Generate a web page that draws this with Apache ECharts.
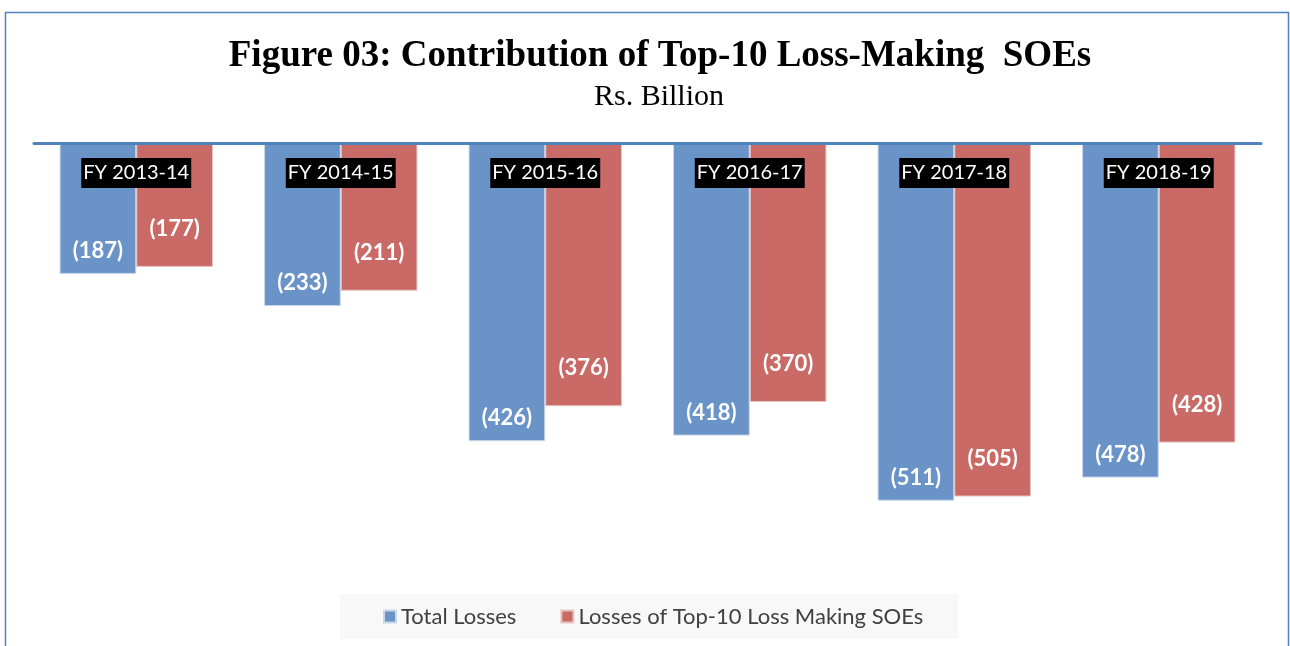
<!DOCTYPE html>
<html>
<head>
<meta charset="utf-8">
<script src="https://cdn.jsdelivr.net/npm/echarts@6/dist/echarts.min.js"></script>
<style>
  html, body { margin: 0; padding: 0; background: #fff; }
  #chart { width: 1290px; height: 646px; }
</style>
</head>
<body>
<div id="chart"></div>
<script>
// values (Rs. Billion, losses shown as negatives)
var categories = ['FY 2013-14', 'FY 2014-15', 'FY 2015-16', 'FY 2016-17', 'FY 2017-18', 'FY 2018-19'];
var totalLosses = [-187, -233, -426, -418, -511, -478];
var top10Losses = [-177, -211, -376, -370, -505, -428];
var seriesNames = ['Total Losses', 'Losses of Top-10 Loss Making SOEs'];

var sansFont = 'Lato, "Open Sans", sans-serif';
var serifFont = '"Liberation Serif", "DejaVu Serif", serif';

function bracketLabel(p) {
  return '(' + Math.abs(p.value) + ')';
}

var myChart = echarts.init(document.getElementById('chart'));
myChart.setOption({
  animation: false,
  backgroundColor: '#fff',
  title: [
    {
      text: 'Figure 03: Contribution of Top-10 Loss-Making  SOEs',
      left: 660,
      top: 38,
      textAlign: 'center',
      padding: 0,
      textStyle: { fontFamily: serifFont, fontSize: 37, fontWeight: 'bold', color: '#000' }
    },
    {
      text: 'Rs. Billion',
      left: 659,
      top: 82,
      textAlign: 'center',
      padding: 0,
      textStyle: { fontFamily: serifFont, fontSize: 30, fontWeight: 'normal', color: '#000' }
    }
  ],
  graphic: [
    {
      type: 'rect',
      shape: { x: 5.5, y: 12.5, width: 1283, height: 700 },
      style: { fill: 'none', stroke: '#4f81bd', lineWidth: 1.5 },
      silent: true
    }
  ],
  legend: {
    data: seriesNames,
    left: 340,
    top: 594,
    padding: [11, 35, 11, 43],
    backgroundColor: '#f8f8f8',
    icon: 'rect',
    itemWidth: 12,
    itemHeight: 12,
    itemGap: 44,
    textStyle: { fontFamily: sansFont, fontSize: 22, color: '#404040', lineHeight: 23 }
  },
  grid: { left: 34, right: 29, top: 143, height: 420 },
  xAxis: {
    type: 'category',
    position: 'top',
    data: categories,
    z: 5,
    axisLine: { show: true, lineStyle: { color: '#4f81bd', width: 3 } },
    axisTick: { show: false },
    axisLabel: {
      inside: true,
      margin: 15,
      color: '#fff',
      fontFamily: sansFont,
      fontSize: 20,
      lineHeight: 24,
      backgroundColor: '#000',
      padding: [3, 2, 3, 2]
    },
    splitLine: { show: false }
  },
  yAxis: {
    type: 'value',
    min: -600,
    max: 0,
    show: false
  },
  series: [
    {
      name: seriesNames[0],
      type: 'bar',
      data: totalLosses,
      barGap: '0%',
      barCategoryGap: '25%',
      itemStyle: { color: '#6a93c7', borderColor: '#c9d7ea', borderWidth: 1 },
      label: {
        show: true,
        position: 'insideBottom',
        distance: 12,
        formatter: bracketLabel,
        color: '#fff',
        fontFamily: sansFont,
        fontWeight: 'bold',
        fontSize: 22
      }
    },
    {
      name: seriesNames[1],
      type: 'bar',
      data: top10Losses,
      itemStyle: { color: '#c96a66', borderColor: '#e6c4c2', borderWidth: 1 },
      label: {
        show: true,
        position: 'insideBottom',
        distance: 27,
        formatter: bracketLabel,
        color: '#fff',
        fontFamily: sansFont,
        fontWeight: 'bold',
        fontSize: 22
      }
    }
  ]
});
</script>
</body>
</html>
